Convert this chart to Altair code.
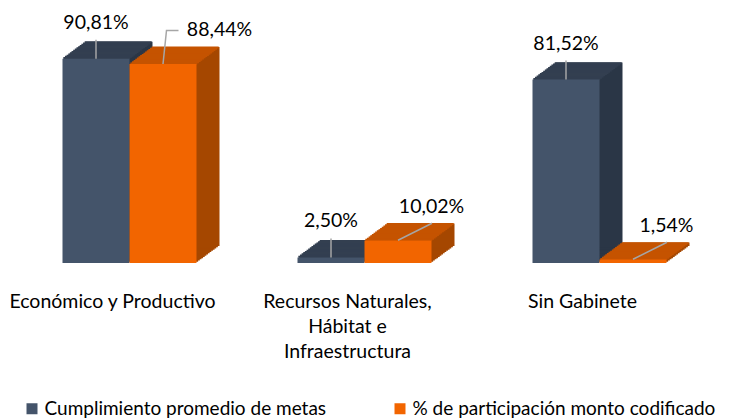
import altair as alt
import pandas as pd

# ---- data ----
categories = ["Económico y Productivo",
              "Recursos Naturales,\nHábitat e\nInfraestructura",
              "Sin Gabinete"]
series_names = ["Cumplimiento promedio de metas",
                "% de participación monto codificado"]
cumplimiento = [90.81, 2.50, 81.52]
participacion = [88.44, 10.02, 1.54]

rows = []
for s, vals in zip(series_names, [cumplimiento, participacion]):
    for c, v in zip(categories, vals):
        rows.append({"cat": c, "series": s, "value": v,
                     "label": f"{v:.2f}".replace(".", ",") + "%"})
df = pd.DataFrame(rows)

# ---- style ----
FONT = "Lato"
FS = 19.5
LFS = 19
TXT = "#000000"
GRAY = "#A6A6A6"
FRONT = ["#44546A", "#F26500"]
TOP = ["#333F50", "#C55300"]
SIDE = ["#2A3646", "#A54700"]
BAR_W = 67
OFFS = [-33.5, 33.5]
DEPTH_X, DEPTH_Y, N = 23.0, 17.0, 14
ddx, ddy = DEPTH_X / N, DEPTH_Y / N

x_enc = alt.X("cat:N", sort=categories,
              scale=alt.Scale(paddingInner=0, paddingOuter=0),
              axis=alt.Axis(title=None, domain=False, ticks=False, grid=False,
                            labelExpr="split(datum.label, '\\n')",
                            labelFont=FONT, labelFontSize=FS, labelColor=TXT,
                            labelPadding=29, labelLineHeight=25, labelOffset=-17,
                            labelLimit=400, labelOverlap=False, labelAngle=0))
y_enc = alt.Y("value:Q", scale=alt.Scale(domain=[0, 100]), axis=None)

base = alt.Chart(df).encode(x=x_enc, y=y_enc)

color_enc = alt.Color("series:N", sort=series_names,
                      scale=alt.Scale(domain=series_names, range=FRONT),
                      legend=alt.Legend(title=None, orient="none", legendX=10.5, legendY=361,
                                        direction="horizontal", symbolType="square",
                                        symbolSize=121, symbolStrokeWidth=0,
                                        labelFont=FONT, labelFontSize=LFS, labelColor=TXT,
                                        columnPadding=64, labelOffset=3, labelLimit=500))

layers = []
# depth (side + top faces), blue first then orange
for i, s in enumerate(series_names):
    bs = base.transform_filter(alt.datum.series == s)
    off = OFFS[i]
    for k in range(1, N + 1):
        layers.append(bs.mark_bar(width=BAR_W, color=SIDE[i],
                                  xOffset=off + k * ddx,
                                  yOffset=-k * ddy, y2Offset=-k * ddy))
    for k in range(N):
        layers.append(bs.mark_tick(orient="horizontal", size=BAR_W, thickness=ddy + 0.8,
                                   color=TOP[i], opacity=1,
                                   xOffset=off + (k + 0.5) * ddx,
                                   yOffset=-(k + 0.5) * ddy))

# front faces
for i, s in enumerate(series_names):
    bs = base.transform_filter(alt.datum.series == s)
    layers.append(bs.mark_bar(width=BAR_W, xOffset=OFFS[i], opacity=1).encode(color=color_enc))

blue = base.transform_filter(alt.datum.series == series_names[0])
orange = base.transform_filter(alt.datum.series == series_names[1])

# leader lines
layers.append(blue.mark_tick(orient="vertical", size=19, thickness=1.5, color=GRAY,
                             opacity=1, xOffset=OFFS[0], yOffset=-9.5))
orange_first = orange.transform_filter(alt.datum.cat == categories[0])
orange_rest = orange.transform_filter(alt.datum.cat != categories[0])
layers.append(orange_first.mark_point(shape="M-0.456,0.985L-0.25,-0.985L0.456,-0.985",
                                      size=1156, filled=False, stroke=GRAY, strokeWidth=1.5,
                                      opacity=1, xOffset=OFFS[1] + 7.75, yOffset=-16.75))
layers.append(orange_rest.mark_point(shape="M-1,0.5L1,-0.5",
                                     size=1156, filled=False, stroke=GRAY, strokeWidth=1.5,
                                     opacity=1, xOffset=OFFS[1] + 17, yOffset=-8.75))

# data labels
layers.append(blue.mark_text(font=FONT, fontSize=FS, color=TXT, dx=OFFS[0], dy=-36,
                             baseline="middle", align="center").encode(text="label:N"))
layers.append(orange_rest.mark_text(font=FONT, fontSize=FS, color=TXT, dx=OFFS[1] + 33.5,
                                    dy=-33.5, baseline="middle", align="center").encode(text="label:N"))
layers.append(orange_first.mark_text(font=FONT, fontSize=FS, color=TXT, dx=OFFS[1] + 56.5,
                                     dy=-34, baseline="middle", align="center").encode(text="label:N"))

chart = alt.layer(*layers).properties(
    width=705, height=225,
    padding={"left": 4, "top": 30, "right": 6, "bottom": 156},
    autosize=alt.AutoSizeParams(type="none"),
    background="white",
).configure_view(stroke=None)

chart.save("out.html", embed_options={"renderer": "svg", "actions": False})
